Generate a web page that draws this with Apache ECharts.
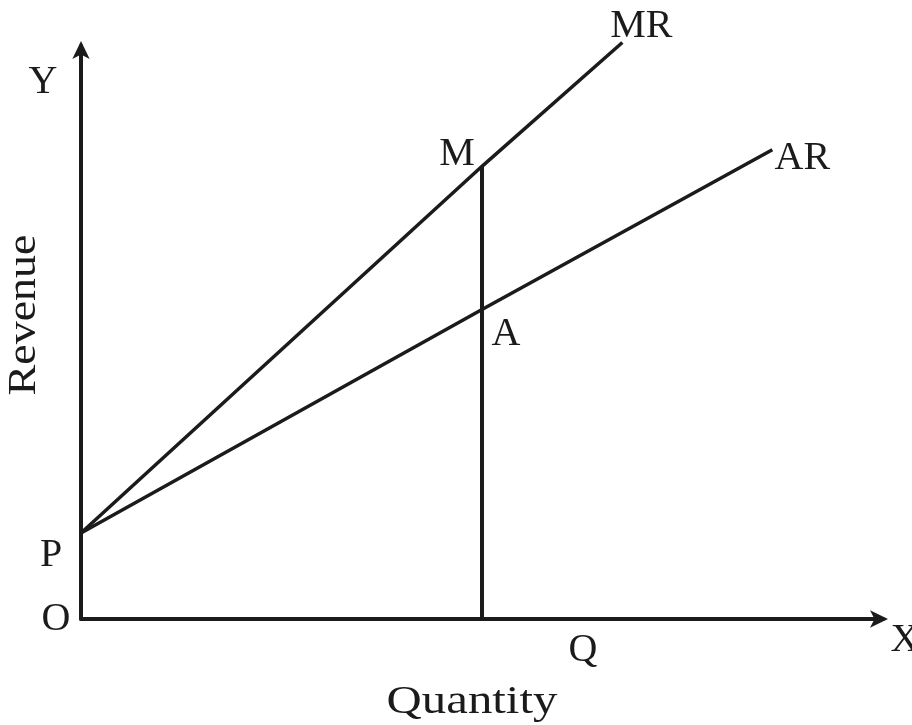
<!DOCTYPE html>
<html>
<head>
<meta charset="utf-8">
<script src="https://cdn.jsdelivr.net/npm/echarts@6/dist/echarts.min.js"></script>
<style>
  html, body { margin: 0; padding: 0; background: #ffffff; }
  #chart { width: 912px; height: 725px; }
</style>
</head>
<body>
<div id="chart"></div>
<script>
// Revenue intercept P and the chosen output level Q
const interceptP = 15;
const quantityQ = 50;

// Marginal revenue line: P -> M -> end
const mrX = [0, 50, 67.5];
const mrY = [15, 79, 100.6];

// Average revenue line: P -> A -> end
const arX = [0, 50, 86.2];
const arY = [15, 54, 81.9];

// Vertical drop from M down to Q on the quantity axis
const dropX = [quantityQ, quantityQ];
const dropY = [0, 79];

const axisNames = ['Quantity', 'Revenue'];

const INK = '#1b1b1b';
const FAMILY = 'Liberation Serif';

function pairs(xs, ys) { return xs.map((x, i) => [x, ys[i]]); }

const chart = echarts.init(document.getElementById('chart'), null, { renderer: 'canvas' });

const lineSeries = (name, data, width) => ({
  name, type: 'line', data, symbol: 'none', clip: false, silent: true,
  lineStyle: { color: INK, width }, animation: false
});

const axisCommon = {
  type: 'value', min: 0, max: 100,
  axisLine: { show: true, onZero: false, symbol: ['none', 'arrow'], symbolSize: [13, 18],
    symbolOffset: [0, 5], lineStyle: { color: INK, width: 4 } },
  axisTick: { show: false }, axisLabel: { show: false }, splitLine: { show: false }
};

chart.setOption({
  backgroundColor: '#ffffff',
  animation: false,
  grid: { left: 81, right: 29, top: 46, bottom: 106 },
  xAxis: axisCommon,
  yAxis: axisCommon,
  series: [
    lineSeries('MR', pairs(mrX, mrY), 3.5),
    lineSeries('AR', pairs(arX, arY), 3.5),
    lineSeries('MQ', pairs(dropX, dropY), 4)
  ]
});

// Letter labels placed next to the points they name
const px = (x, y) => chart.convertToPixel({ gridIndex: 0 }, [x, y]);
const letters = [
  { text: 'P',  at: [0, interceptP],         dx: -30, dy: 22 },
  { text: 'M',  at: [mrX[1], mrY[1]],        dx: -25, dy: -12 },
  { text: 'A',  at: [arX[1], arY[1]],        dx: 24,  dy: 25 },
  { text: 'MR', at: [mrX[2], mrY[2]],        dx: 19,  dy: -16 },
  { text: 'AR', at: [arX[2], arY[2]],        dx: 30,  dy: 9 },
  { text: 'Q',  at: [quantityQ, 0],          dx: 101, dy: 31 },
  { text: 'O',  at: [0, 0],                  dx: -25, dy: 0 },
  { text: 'Y',  at: [0, 100],                dx: -38, dy: 36 },
  { text: 'X',  at: [100, 0],                dx: 22,  dy: 21 }
];

const textStyle = (text) => ({
  text, fontFamily: FAMILY, fontSize: 40, fill: INK, align: 'center', verticalAlign: 'middle'
});

const graphics = letters.map(l => {
  const p = px(l.at[0], l.at[1]);
  return { type: 'text', x: p[0] + l.dx, y: p[1] + l.dy, style: textStyle(l.text), silent: true };
});

// Axis titles
graphics.push({ type: 'text', x: 472, y: 702, scaleX: 1.22, style: textStyle(axisNames[0]), silent: true });
graphics.push({ type: 'text', x: 24, y: 315, rotation: Math.PI / 2, scaleX: 1.15, style: textStyle(axisNames[1]), silent: true });

chart.setOption({ graphic: graphics });
</script>
</body>
</html>
